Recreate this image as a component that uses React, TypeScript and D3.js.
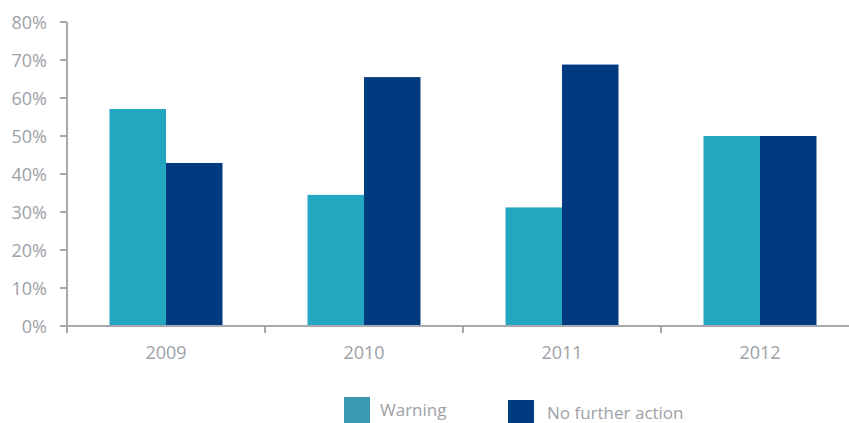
import React from "react";
import * as d3 from "d3";

const years = ["2009", "2010", "2011", "2012"];
const warning = [57.1, 34.5, 31.2, 50];
const noFurtherAction = [42.9, 65.5, 68.8, 50];
const yTicks = [0, 10, 20, 30, 40, 50, 60, 70, 80];
const seriesNames = ["Warning", "No further action"];

const W = 849;
const H = 423;
const axisColor = "#a7a9ac";
const textColor = "#a0a1a6";
const colors = ["#23a6bf", "#003b80"];
const legendColors = ["#3a98b0", "#003b80"];
const font = "'Open Sans', sans-serif";

export default function App() {
  const x = d3.scaleBand<string>().domain(years).range([67, 859]).paddingInner(0).paddingOuter(0);
  const y = d3.scaleLinear().domain([0, 80]).range([326, 22]);
  const inner = d3.scaleBand<string>().domain(seriesNames).range([0, 113]);
  const bw = x.bandwidth();
  const series = [warning, noFurtherAction];

  return (
    <svg width={W} height={H} style={{ position: "absolute", left: 0, top: 0, background: "#fff" }}>
      {series.map((vals, si) =>
        years.map((yr, i) => {
          const x0 = (x(yr) as number) + bw / 2 - 56.5 + (inner(seriesNames[si]) as number);
          return (
            <rect
              key={`${si}-${i}`}
              x={x0}
              y={y(vals[i])}
              width={inner.bandwidth()}
              height={y(0) - y(vals[i])}
              fill={colors[si]}
            />
          );
        })
      )}
      {/* y axis */}
      <line x1={67} x2={67} y1={y(80)} y2={333} stroke={axisColor} strokeWidth={2} />
      {yTicks.map((t) => (
        <g key={t}>
          <line x1={60} x2={67} y1={y(t)} y2={y(t)} stroke={axisColor} strokeWidth={2} />
          <text
            x={47}
            y={y(t)}
            textAnchor="end"
            dominantBaseline="central"
            fontFamily={font}
            fontSize={18}
            fill={textColor}
          >
            {t}%
          </text>
        </g>
      ))}
      {/* x axis */}
      <line x1={66} x2={W} y1={y(0)} y2={y(0)} stroke={axisColor} strokeWidth={2} />
      {years.map((yr) => (
        <line
          key={yr}
          x1={x(yr) as number}
          x2={x(yr) as number}
          y1={y(0)}
          y2={333}
          stroke={axisColor}
          strokeWidth={2}
        />
      ))}
      {years.map((yr) => (
        <text
          key={yr}
          x={(x(yr) as number) + bw / 2}
          y={359}
          textAnchor="middle"
          fontFamily={font}
          fontSize={18}
          fill={textColor}
        >
          {yr}
        </text>
      ))}
      {/* legend */}
      <rect x={344} y={397} width={26} height={26} fill={legendColors[0]} />
      <text x={380} y={416} fontFamily={font} fontSize={17} fill={textColor}>
        {seriesNames[0]}
      </text>
      <rect x={508} y={400} width={26} height={23} fill={legendColors[1]} />
      <text x={547} y={419} fontFamily={font} fontSize={17} fill={textColor}>
        {seriesNames[1]}
      </text>
    </svg>
  );
}
